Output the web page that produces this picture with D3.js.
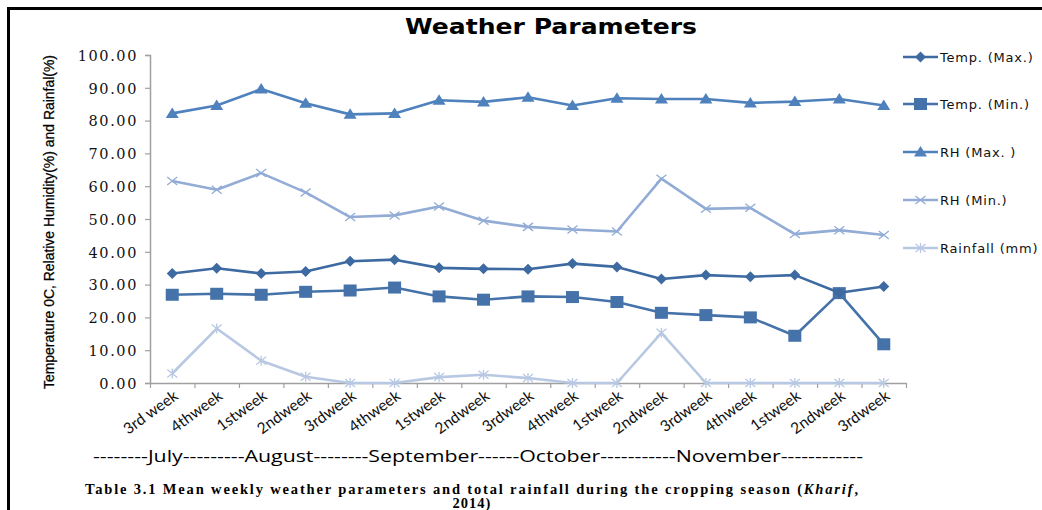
<!DOCTYPE html>
<html><head><meta charset="utf-8">
<script src="https://cdn.jsdelivr.net/npm/d3@7"></script>
<style>body{margin:0;background:#fff}svg{display:block}</style>
</head><body>
<svg id="c" width="1042" height="510"></svg>
<script>
const categories = ["3rd week","4thweek","1stweek","2ndweek","3rdweek","4thweek","1stweek","2ndweek","3rdweek","4thweek","1stweek","2ndweek","3rdweek","4thweek","1stweek","2ndweek","3rdweek"];
const tempMax  = [33.4,35.0,33.4,34.0,37.1,37.6,35.1,34.8,34.7,36.4,35.4,31.7,32.9,32.4,32.9,27.5,29.4];
const tempMin  = [26.9,27.2,26.9,27.8,28.2,29.1,26.4,25.4,26.4,26.2,24.7,21.4,20.7,20.0,14.4,27.4,11.8];
const rhMax    = [82.2,84.6,89.6,85.3,81.9,82.2,86.2,85.7,87.1,84.6,86.8,86.6,86.6,85.4,85.8,86.6,84.6];
const rhMin    = [61.6,58.9,64.0,58.1,50.6,51.1,53.8,49.5,47.6,46.8,46.2,62.3,53.1,53.4,45.4,46.6,45.1];
const rainfall = [2.9,16.6,6.8,1.9,0.0,0.0,1.8,2.5,1.5,0.0,0.0,15.3,0.0,0.0,0.0,0.0,0.0];
const yTicks = [0,10,20,30,40,50,60,70,80,90,100];
const seriesNames = ["Temp. (Max.)","Temp. (Min.)","RH (Max. )","RH (Min.)","Rainfall (mm)"];
const months = "--------July---------August--------September------October-----------November------------";

const series = [
  {name:seriesNames[0], values:tempMax, color:"#3e6aa2", marker:"diamond", w:2.6},
  {name:seriesNames[1], values:tempMin, color:"#4472a9", marker:"square", w:2.6},
  {name:seriesNames[2], values:rhMax, color:"#4f81bd", marker:"triangle", w:2.6},
  {name:seriesNames[3], values:rhMin, color:"#92acd6", marker:"x", w:2.6},
  {name:seriesNames[4], values:rainfall, color:"#b8c8e2", marker:"star", w:2.6}
];

const svg = d3.select("#c");
// frame
svg.append("line").attr("x1",7).attr("x2",1042).attr("y1",8.5).attr("y2",8.5).attr("stroke","#000").attr("stroke-width",3);
svg.append("line").attr("x1",8.5).attr("x2",8.5).attr("y1",7).attr("y2",510).attr("stroke","#000").attr("stroke-width",3);

const L=150, R=906, T=55, B=383;
const x = d3.scaleBand().domain(d3.range(categories.length)).range([L,R]);
const xb = d3.scaleLinear().domain([0,categories.length]).range([L,R]);
const y = d3.scaleLinear().domain([0,100]).range([B,T]);
const cx = i => x(i)+x.bandwidth()/2;

// title
svg.append("text").attr("x",551).attr("y",34).attr("text-anchor","middle")
  .attr("font-family","DejaVu Sans").attr("font-weight","bold").attr("font-size",22)
  .attr("textLength",292).attr("lengthAdjust","spacingAndGlyphs").text("Weather Parameters");

// y axis
const ya = svg.append("g").attr("transform",`translate(${L},0)`)
  .call(d3.axisLeft(y).tickValues(yTicks).tickFormat(d3.format(".2f")).tickSize(5).tickPadding(7));
ya.select(".domain").attr("stroke","#a0a0a0").attr("stroke-width",1.5);
ya.selectAll(".tick line").attr("stroke","#a0a0a0").attr("stroke-width",1.2);
ya.selectAll(".tick text").attr("font-family","DejaVu Serif").attr("font-size",14.5)
  .attr("letter-spacing",1.6).attr("fill","#111").attr("dy","0.36em");

// x axis boundary ticks
const xa = svg.append("g").attr("transform",`translate(0,${B})`)
  .call(d3.axisBottom(xb).tickValues(d3.range(categories.length+1)).tickFormat("").tickSize(5).tickSizeOuter(0));
xa.select(".domain").attr("stroke","#a0a0a0").attr("stroke-width",1.5);
xa.selectAll(".tick line").attr("stroke","#a0a0a0").attr("stroke-width",1.2);

// x labels
const xl = svg.append("g").attr("transform",`translate(0,${B})`)
  .call(d3.axisBottom(x).tickFormat(i=>categories[i]).tickSize(0));
xl.select(".domain").remove();
xl.selectAll(".tick text").attr("font-family","Lato").attr("font-size",15.5).attr("fill","#111")
  .attr("text-anchor","end").attr("dy",0).attr("y",0)
  .attr("transform","translate(7,15) rotate(-36)");

// y label
svg.append("text").attr("transform","translate(54,222) rotate(-90)").attr("text-anchor","middle")
  .attr("font-family","Liberation Sans Narrow, Liberation Sans").attr("font-size",15.5).attr("fill","#000")
  .attr("stroke","#000").attr("stroke-width",0.25)
  .attr("textLength",334).attr("lengthAdjust","spacingAndGlyphs")
  .text("Temperature 0C, Relative Humidity(%) and Rainfal(%)");

function drawMarker(g, type, px, py, color){
  if(type==="diamond"){
    g.append("path").attr("d",`M${px},${py-5.5}L${px+5.5},${py}L${px},${py+5.5}L${px-5.5},${py}Z`).attr("fill",color);
  } else if(type==="square"){
    g.append("rect").attr("x",px-6.5).attr("y",py-6).attr("width",13).attr("height",12).attr("fill",color);
  } else if(type==="triangle"){
    g.append("path").attr("d",`M${px},${py-6}L${px+6.5},${py+4.5}L${px-6.5},${py+4.5}Z`).attr("fill",color);
  } else if(type==="x"){
    g.append("path").attr("d",`M${px-5},${py-4}L${px+5},${py+4}M${px-5},${py+4}L${px+5},${py-4}`).attr("stroke",color).attr("stroke-width",1.3).attr("fill","none");
  } else if(type==="star"){
    g.append("path").attr("d",`M${px-5},${py-4}L${px+5},${py+4}M${px-5},${py+4}L${px+5},${py-4}M${px},${py-5}L${px},${py+5}`).attr("stroke",color).attr("stroke-width",1.3).attr("fill","none");
  }
}

const line = d3.line().x((d,i)=>cx(i)).y(d=>y(d));
[...series].reverse().forEach(s=>{
  const g = svg.append("g");
  g.append("path").datum(s.values).attr("d",line).attr("fill","none").attr("stroke",s.color)
    .attr("stroke-width",s.w).attr("stroke-linejoin","round");
  s.values.forEach((v,i)=>drawMarker(g,s.marker,cx(i),y(v),s.color));
});

// legend
const ly = [57,104,152,200,248];
series.forEach((s,k)=>{
  const g = svg.append("g");
  g.append("line").attr("x1",903).attr("x2",938).attr("y1",ly[k]).attr("y2",ly[k]).attr("stroke",s.color).attr("stroke-width",2.6);
  drawMarker(g,s.marker,920.5,ly[k],s.color);
  g.append("text").attr("x",940).attr("y",ly[k]).attr("dy","0.35em").attr("font-family","DejaVu Sans")
    .attr("font-size",13).attr("letter-spacing",0.8).attr("fill","#111").text(s.name);
});

// months line
svg.append("text").attr("x",93).attr("y",462).attr("font-family","Open Sans").attr("font-size",15.5)
  .attr("fill","#000").attr("textLength",770).attr("lengthAdjust","spacingAndGlyphs").text(months);

// caption
const cap = svg.append("text").attr("x",85).attr("y",494).attr("font-family","Liberation Serif")
  .attr("font-weight","bold").attr("font-size",14.5).attr("fill","#000")
  .attr("textLength",773).attr("lengthAdjust","spacing");
cap.append("tspan").text("Table 3.1 Mean weekly weather parameters and total rainfall during the cropping season (");
cap.append("tspan").attr("font-style","italic").text("Kharif");
cap.append("tspan").text(",");
svg.append("text").attr("x",472).attr("y",508).attr("text-anchor","middle").attr("font-family","Liberation Serif")
  .attr("font-weight","bold").attr("font-size",14.5).attr("letter-spacing",1).text("2014)");
</script>
</body></html>
